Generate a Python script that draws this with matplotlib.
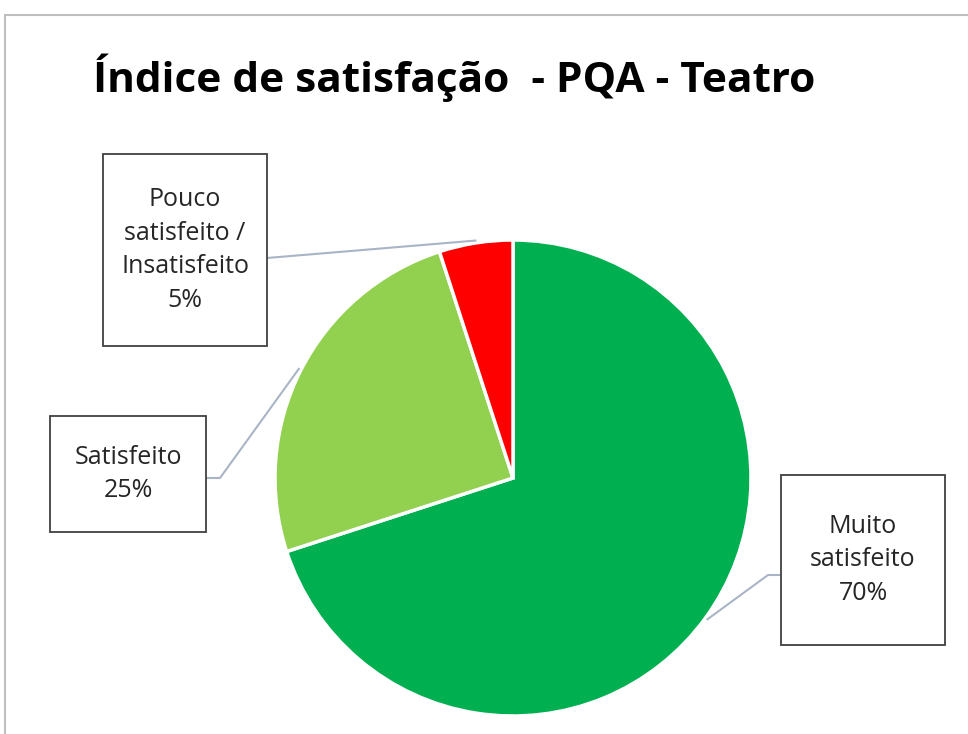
import numpy as np
import matplotlib
matplotlib.use("Agg")
import matplotlib.pyplot as plt
from matplotlib.patches import Rectangle

plt.rcParams['font.family'] = ['Open Sans', 'DejaVu Sans']

title = "Índice de satisfação  - PQA - Teatro"
categories = ["Muito\nsatisfeito", "Satisfeito", "Pouco\nsatisfeito /\nInsatisfeito"]
values = [70, 25, 5]
colors = ["#00B050", "#92D050", "#FF0000"]

W, H = 968, 734
fig = plt.figure(figsize=(W / 100, H / 100), dpi=100)
ax = fig.add_axes([0, 0, 1, 1])

# outer chart border
ax.add_patch(Rectangle((5, -20), 1000, H - 15 + 20, fill=False, edgecolor="#BFBFBF", linewidth=1.5))

cx, cy, r = 513, H - 478, 238
wedges, _ = ax.pie(values, colors=colors, startangle=90, counterclock=False,
                   center=(cx, cy), radius=r,
                   wedgeprops=dict(edgecolor="white", linewidth=2.5), frame=True)
ax.set_xlim(0, W)
ax.set_ylim(0, H)
ax.set_aspect('equal')
ax.axis('off')

ax.text(454, H - 78, title, ha='center', va='center', fontsize=30.5, fontweight='bold', color='black')

# label boxes (x0, y_top, x1, y_bottom) in pixel coords from top
boxes = [(781, 475, 945, 645), (50, 416, 206, 532), (103, 154, 267, 346)]
# leader: box attach point and elbow (pixel coords from top)
attach = [[(781, 575), (768, 575)], [(206, 478), (220, 478)], [(267, 258), (267, 258)]]

total = sum(values)
ang = 90.0
for i, (lab, v) in enumerate(zip(categories, values)):
    sweep = 360.0 * v / total
    mid = np.deg2rad(ang - sweep / 2)
    ang -= sweep
    px = cx + 1.01 * r * np.cos(mid)
    py = cy + 1.01 * r * np.sin(mid)
    x0, t, x1, b = boxes[i]
    ax.add_patch(Rectangle((x0, H - b), x1 - x0, b - t, facecolor='white',
                           edgecolor='#404040', linewidth=1.3, zorder=3))
    ax.text((x0 + x1) / 2, H - (t + b) / 2, f"{lab}\n{v}%", ha='center', va='center',
            fontsize=18, color='#262626', linespacing=1.45, zorder=4)
    (ax_, ay_), (ex, ey) = attach[i]
    ax.plot([ax_, ex, px], [H - ay_, H - ey, py], color='#A9B5C6', linewidth=1.5, zorder=2)

fig.savefig("out.png", dpi=100)
